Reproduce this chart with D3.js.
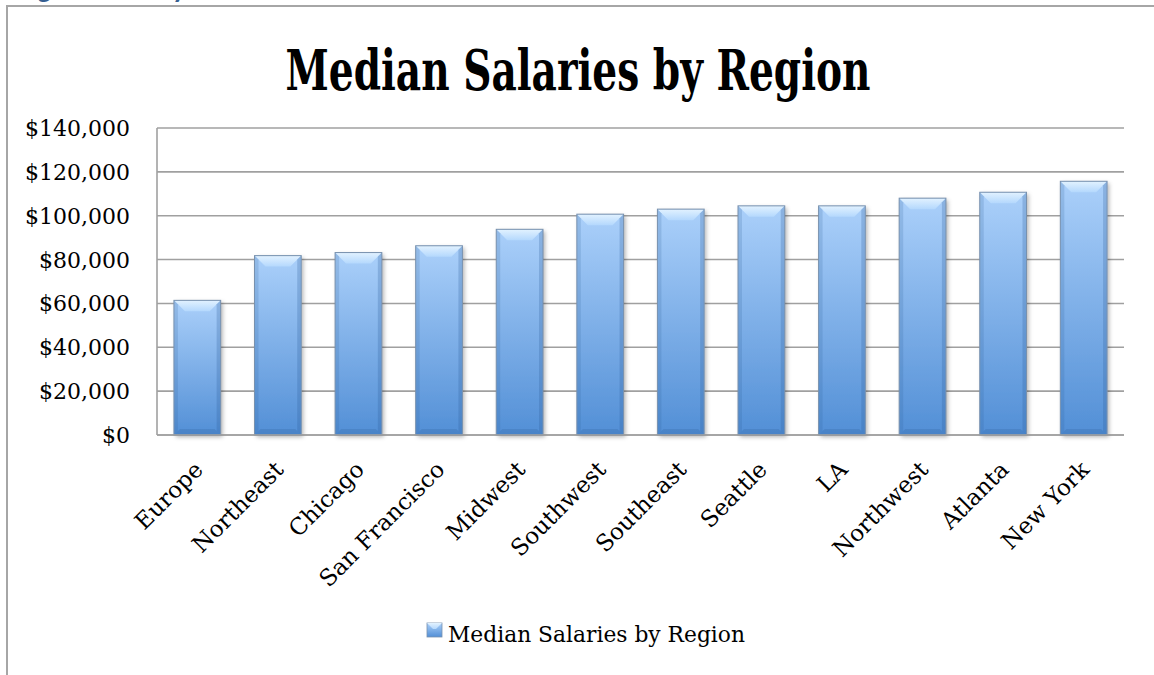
<!DOCTYPE html>
<html>
<head>
<meta charset="utf-8">
<script src="https://cdn.jsdelivr.net/npm/d3@7"></script>
<style>
  body { margin: 0; background: #fff; }
  svg { display: block; }
</style>
</head>
<body>
<div id="chart"></div>
<script>
// chart data
var regions = ["Europe", "Northeast", "Chicago", "San Francisco", "Midwest", "Southwest",
  "Southeast", "Seattle", "LA", "Northwest", "Atlanta", "New York"];
var salaries = [61400, 81800, 83200, 86300, 93800, 100700, 103000, 104500, 104500, 108000, 110700, 115700];
var yTicks = [0, 20000, 40000, 60000, 80000, 100000, 120000, 140000];
var chartTitle = "Median Salaries by Region";
var seriesName = "Median Salaries by Region";

var svgWidth = 1154;
var svgHeight = 675;

var plot = { left: 157, right: 1124, top: 128, bottom: 435 };

var svg = d3.select("#chart")
  .append("svg")
  .attr("width", svgWidth)
  .attr("height", svgHeight);

var defs = svg.append("defs");

// bar body gradient
var bodyGrad = defs.append("linearGradient")
  .attr("id", "barBody").attr("x1", 0).attr("y1", 0).attr("x2", 0).attr("y2", 1);
bodyGrad.append("stop").attr("offset", "0%").attr("stop-color", "#abd0fa");
bodyGrad.append("stop").attr("offset", "100%").attr("stop-color", "#528fd6");

var topGrad = defs.append("linearGradient")
  .attr("id", "barTop").attr("x1", 0).attr("y1", 0).attr("x2", 0).attr("y2", 1);
topGrad.append("stop").attr("offset", "0%").attr("stop-color", "#e2f2ff");
topGrad.append("stop").attr("offset", "100%").attr("stop-color", "#b4d8fd");

var shadow = defs.append("filter").attr("id", "shadow")
  .attr("x", "-20%").attr("y", "-10%").attr("width", "150%").attr("height", "130%");
shadow.append("feDropShadow")
  .attr("dx", 2).attr("dy", 2).attr("stdDeviation", 2)
  .attr("flood-color", "#000").attr("flood-opacity", 0.3);

// outer frame (left + top)
svg.append("path")
  .attr("d", `M7,${svgHeight} L7,6 L${svgWidth},6`)
  .attr("fill", "none")
  .attr("stroke", "#a6a6a6")
  .attr("stroke-width", 2);

// heading above the frame, mostly cut off by the page edge
svg.append("text")
  .attr("x", 8)
  .attr("y", -2)
  .attr("font-family", "Carlito, 'Liberation Sans', sans-serif")
  .attr("font-weight", "bold")
  .attr("font-size", 28)
  .attr("fill", "#365f91")
  .text("Regional Salary");

// title
svg.append("text")
  .attr("x", 578)
  .attr("y", 90)
  .attr("text-anchor", "middle")
  .attr("font-family", "'DejaVu Serif', serif")
  .attr("font-weight", "bold")
  .attr("font-size", 56)
  .attr("textLength", 585)
  .attr("lengthAdjust", "spacingAndGlyphs")
  .text(chartTitle);

var xScale = d3.scaleBand()
  .domain(regions)
  .range([plot.left, plot.right])
  .paddingInner(0.42)
  .paddingOuter(0.21);

var yScale = d3.scaleLinear()
  .domain([0, 140000])
  .range([plot.bottom, plot.top]);

// gridlines
svg.append("g")
  .selectAll("line")
  .data(yTicks)
  .enter()
  .append("line")
  .attr("x1", plot.left)
  .attr("x2", plot.right)
  .attr("y1", d => yScale(d))
  .attr("y2", d => yScale(d))
  .attr("stroke", "#a0a0a0")
  .attr("stroke-width", 1.6);

// y axis line
svg.append("line")
  .attr("x1", plot.left).attr("x2", plot.left)
  .attr("y1", yScale(140000)).attr("y2", yScale(0))
  .attr("stroke", "#a0a0a0")
  .attr("stroke-width", 1.6);

// y tick labels
var fmt = d3.format("$,.0f");
svg.append("g")
  .selectAll("text")
  .data(yTicks)
  .enter()
  .append("text")
  .attr("x", 130)
  .attr("y", d => yScale(d) + 8)
  .attr("text-anchor", "end")
  .attr("font-family", "'DejaVu Serif', serif")
  .attr("font-size", 22)
  .attr("fill", "#000")
  .text(d => fmt(d));

// bars
var bw = xScale.bandwidth();
var bev = 11;
var bars = svg.append("g").selectAll("g.bar")
  .data(regions)
  .enter()
  .append("g")
  .attr("class", "bar");

bars.append("rect")
  .attr("x", d => xScale(d))
  .attr("y", (d, i) => yScale(salaries[i]))
  .attr("width", bw)
  .attr("height", (d, i) => yScale(0) - yScale(salaries[i]))
  .attr("fill", "url(#barBody)")
  .attr("filter", "url(#shadow)");

// top bevel
bars.append("polygon")
  .attr("points", function(d, i) {
    var x0 = xScale(d), x1 = x0 + bw, y0 = yScale(salaries[i]);
    return [[x0, y0], [x1, y0], [x1 - bev, y0 + bev], [x0 + bev, y0 + bev]].join(" ");
  })
  .attr("fill", "url(#barTop)");

// side bevels (slightly darker)
bars.append("polygon")
  .attr("points", function(d, i) {
    var x0 = xScale(d), y0 = yScale(salaries[i]), y1 = yScale(0);
    return [[x0, y0], [x0 + 4, y0 + 4], [x0 + 4, y1 - 4], [x0, y1]].join(" ");
  })
  .attr("fill", "#2a5c96").attr("fill-opacity", 0.18);

bars.append("polygon")
  .attr("points", function(d, i) {
    var x1 = xScale(d) + bw, y0 = yScale(salaries[i]), y1 = yScale(0);
    return [[x1, y0], [x1 - 4, y0 + 4], [x1 - 4, y1 - 4], [x1, y1]].join(" ");
  })
  .attr("fill", "#2a5c96").attr("fill-opacity", 0.25);

// bottom bevel
bars.append("polygon")
  .attr("points", function(d, i) {
    var x0 = xScale(d), x1 = x0 + bw, y1 = yScale(0);
    return [[x0, y1], [x0 + 6, y1 - 6], [x1 - 6, y1 - 6], [x1, y1]].join(" ");
  })
  .attr("fill", "#2a5c96").attr("fill-opacity", 0.22);

bars.append("rect")
  .attr("x", d => xScale(d))
  .attr("y", (d, i) => yScale(salaries[i]))
  .attr("width", bw)
  .attr("height", (d, i) => yScale(0) - yScale(salaries[i]))
  .attr("fill", "none")
  .attr("stroke", "#7891ae")
  .attr("stroke-width", 1);

// x axis line
svg.append("line")
  .attr("x1", plot.left).attr("x2", plot.right)
  .attr("y1", yScale(0)).attr("y2", yScale(0))
  .attr("stroke", "#a0a0a0")
  .attr("stroke-width", 1.6);

// x labels, rotated
svg.append("g")
  .selectAll("text")
  .data(regions)
  .enter()
  .append("text")
  .attr("transform", d => `translate(${xScale(d) + bw / 2 + 7}, 471) rotate(-45)`)
  .attr("text-anchor", "end")
  .attr("font-family", "'DejaVu Serif', serif")
  .attr("font-size", 23)
  .attr("fill", "#000")
  .text(d => d);

// legend
var legend = svg.append("g");
legend.append("rect")
  .attr("x", 427).attr("y", 623)
  .attr("width", 15).attr("height", 14)
  .attr("fill", "url(#barBody)")
  .attr("stroke", "#7891ae")
  .attr("stroke-width", 0.8);
legend.append("polygon")
  .attr("points", "427,623 442,623 436,629 433,629")
  .attr("fill", "url(#barTop)");
legend.append("text")
  .attr("x", 448)
  .attr("y", 642)
  .attr("font-family", "'DejaVu Serif', serif")
  .attr("font-size", 23)
  .attr("textLength", 297)
  .attr("lengthAdjust", "spacingAndGlyphs")
  .text(seriesName);
</script>
</body>
</html>
